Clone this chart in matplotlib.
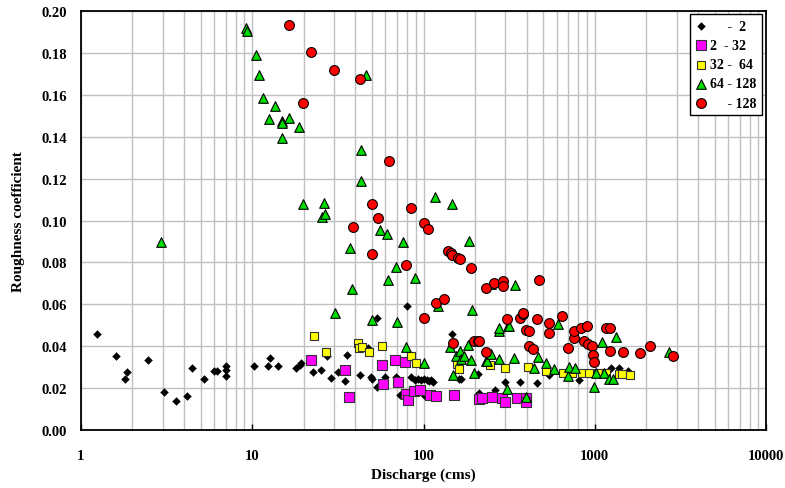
import matplotlib
matplotlib.use("Agg")
import matplotlib.pyplot as plt
from matplotlib.ticker import LogLocator, FixedLocator, NullFormatter, FuncFormatter

# ---- data: discharge (cms) and roughness coefficient, grouped by class ----
labels = ["     -  2", "2  - 32", "32 -  64", "64 - 128", "     - 128"]

q_c1 = [1.25, 1.6, 1.81, 1.85, 2.47, 3.05, 3.58, 4.15, 4.46, 5.26, 5.99, 6.23, 7.03, 7.03, 7.03,
        10.3, 12.3, 12.7, 14.1, 18.1, 18.9, 19.4, 22.6, 25.1, 27.3, 29.0, 31.7, 34.9, 35.6, 42.4,
        47.6, 49.5, 50.2, 53.4, 53.4, 59.8, 69.3, 70.8, 73.1, 80.3, 84.8, 89.0, 93.0, 97.0, 101,
        101, 105, 108, 111, 114, 147, 162, 166, 209, 212, 263, 301, 366, 460, 538, 813, 1243, 1376, 1553]
n_c1 = [0.0457, 0.0354, 0.0243, 0.0278, 0.0334, 0.0183, 0.0138, 0.0161, 0.0294, 0.0243, 0.0283, 0.0283,
        0.0259, 0.0286, 0.0306, 0.0304, 0.0304, 0.0342, 0.0304, 0.0294, 0.0310, 0.0318, 0.0278, 0.0286,
        0.0354, 0.0248, 0.0278, 0.0235, 0.0358, 0.0262, 0.0390, 0.0254, 0.0243, 0.0204, 0.0533, 0.0250,
        0.0254, 0.0243, 0.0167, 0.0590, 0.0250, 0.0238, 0.0242, 0.0236, 0.0244, 0.0167, 0.0238, 0.0232,
        0.0236, 0.0228, 0.0458, 0.0241, 0.0241, 0.0269, 0.0177, 0.0192, 0.0227, 0.0227, 0.0222, 0.0262,
        0.0240, 0.0294, 0.0294, 0.0283]

q_c2 = [21.9, 34.6, 36.5, 57.1, 58.4, 68.4, 71.2, 77.5, 79.3, 81.0, 87.5, 95.7, 109, 119, 150,
        212, 220, 251, 288, 298, 352, 397, 397]
n_c2 = [0.0335, 0.0288, 0.0159, 0.0310, 0.0218, 0.0335, 0.0227, 0.0323, 0.0172, 0.0143, 0.0186, 0.0188,
        0.0164, 0.0161, 0.0164, 0.0148, 0.0154, 0.0156, 0.0151, 0.0132, 0.0151, 0.0151, 0.0132]

q_c3 = [22.9, 26.8, 41.4, 42.0, 43.9, 48.0, 57.1, 84.8, 90.7, 157, 161, 243, 297, 409, 519, 655, 736,
        837, 929, 1038, 1162, 1389, 1440, 1604]
n_c3 = [0.0450, 0.0371, 0.0414, 0.0391, 0.0394, 0.0371, 0.0399, 0.0351, 0.0320, 0.0315, 0.0291, 0.0312,
        0.0294, 0.0299, 0.0280, 0.0271, 0.0273, 0.0273, 0.0273, 0.0273, 0.0273, 0.0269, 0.0269, 0.0262]

q_c4 = [2.93, 9.25, 9.33, 10.5, 10.96, 11.5, 12.6, 13.5, 14.9, 15.0, 15.0, 16.5, 18.7, 19.8, 26.1, 25.7,
        26.5, 30.3, 37.4, 38.4, 42.9, 42.9, 45.9, 50.0, 55.4, 61.4, 61.9, 68.7, 69.9, 75.7, 79.3, 89.0,
        100, 116, 121, 143, 147, 148, 155, 164, 166, 173, 183, 185, 190, 192, 198, 232, 234, 248, 248,
        277, 277, 277, 307, 310, 314, 339, 344, 397, 444, 469, 519, 581, 607, 694, 703, 767, 993, 1016,
        1102, 1136, 1203, 1270, 1330, 2718]
n_c4 = [0.0897, 0.1921, 0.1905, 0.1789, 0.1693, 0.1587, 0.1483, 0.1545, 0.1396, 0.1475, 0.1467, 0.1491,
        0.1447, 0.1078, 0.1083, 0.1015, 0.1029, 0.0557, 0.0871, 0.0673, 0.1336, 0.1189, 0.1693, 0.0525,
        0.0955, 0.0935, 0.0717, 0.0776, 0.0514, 0.0895, 0.0397, 0.0725, 0.0318, 0.1110, 0.0593, 0.0394,
        0.1078, 0.0264, 0.0354, 0.0378, 0.0339, 0.0354, 0.0407, 0.0900, 0.0334, 0.0572, 0.0272, 0.0331,
        0.0331, 0.0697, 0.0363, 0.0470, 0.0339, 0.0487, 0.0196, 0.0498, 0.0498, 0.0342, 0.0692, 0.0156,
        0.0294, 0.0347, 0.0320, 0.0291, 0.0506, 0.0256, 0.0302, 0.0294, 0.0204, 0.0272, 0.0418, 0.0272,
        0.0243, 0.0243, 0.0442, 0.0373]

q_c5 = [16.4, 19.9, 21.9, 30.0, 38.7, 42.4, 49.8, 50.2, 53.9, 62.8, 79.3, 84.3, 100, 100.5, 106, 117.5,
        131, 139, 145, 147, 148, 160, 163, 190, 198, 207, 212, 232, 232, 259, 290, 293, 307, 366, 379,
        383, 397, 415, 415, 434, 460, 470, 538, 543, 644, 700, 752, 759, 830, 860, 896, 908, 963, 971,
        993, 1162, 1226, 1226, 1466, 1824, 2108, 2870]
n_c5 = [0.1933, 0.1560, 0.1806, 0.1720, 0.0970, 0.1674, 0.0838, 0.1081, 0.1013, 0.1285, 0.0789, 0.1062,
        0.0534, 0.0987, 0.0959, 0.0606, 0.0625, 0.0855, 0.0844, 0.0835, 0.0414, 0.0822, 0.0816, 0.0771,
        0.0426, 0.0426, 0.0426, 0.0677, 0.0371, 0.0701, 0.0712, 0.0688, 0.0530, 0.0533, 0.0553, 0.0557,
        0.0478, 0.0474, 0.0399, 0.0386, 0.0530, 0.0716, 0.0510, 0.0463, 0.0542, 0.0390, 0.0437, 0.0474,
        0.0487, 0.0423, 0.0495, 0.0410, 0.0399, 0.0358, 0.0326, 0.0487, 0.0487, 0.0378, 0.0371, 0.0367,
        0.0399, 0.0354]

xticks = [1, 10, 100, 1000, 10000]
yticks = [0.00, 0.02, 0.04, 0.06, 0.08, 0.10, 0.12, 0.14, 0.16, 0.18, 0.20]

serif = ["Liberation Serif", "DejaVu Serif"]

fig = plt.figure(figsize=(7.85, 4.89), dpi=100)
ax = fig.add_axes([0.103, 0.119, 0.873, 0.856])

ax.set_xscale("log")
ax.set_xlim(1, 10000)
ax.set_ylim(0, 0.20)

ax.scatter(q_c1, n_c1, marker="D", s=16, c="black", edgecolors="black", linewidths=0.3, label=labels[0], zorder=3)
ax.scatter(q_c2, n_c2, marker="s", s=42, c="#ff00ff", edgecolors="#333333", linewidths=0.8, label=labels[1], zorder=3)
ax.scatter(q_c3, n_c3, marker="s", s=38, c="#ffff00", edgecolors="#333333", linewidths=0.8, label=labels[2], zorder=3)
ax.scatter(q_c4, n_c4, marker="^", s=48, c="#00dd00", edgecolors="black", linewidths=0.8, label=labels[3], zorder=3)
ax.scatter(q_c5, n_c5, marker="o", s=50, c="#ff0000", edgecolors="black", linewidths=0.8, label=labels[4], zorder=3)

ax.xaxis.set_major_locator(FixedLocator(xticks))
ax.xaxis.set_minor_locator(LogLocator(base=10, subs=range(2, 10)))
ax.xaxis.set_minor_formatter(NullFormatter())
ax.xaxis.set_major_formatter(FuncFormatter(lambda v, p: f"{int(round(v))}"))
ax.yaxis.set_major_locator(FixedLocator(yticks))
ax.yaxis.set_major_formatter(FuncFormatter(lambda v, p: f"{v:.2f}"))

ax.grid(True, which="major", axis="both", color="#c0c0c0", linewidth=1.0, zorder=0)
ax.grid(True, which="minor", axis="x", color="#c0c0c0", linewidth=1.0, zorder=0)
ax.set_axisbelow(True)

ax.tick_params(axis="x", which="major", direction="in", length=4, width=1, pad=14)
ax.tick_params(axis="x", which="minor", length=0)
ax.tick_params(axis="y", which="major", length=0, pad=10)

for lab in ax.get_xticklabels() + ax.get_yticklabels():
    lab.set_fontfamily(serif)
    lab.set_fontweight("bold")
    lab.set_fontsize(10.5)

for sp in ax.spines.values():
    sp.set_color("black")
    sp.set_linewidth(1.3)

ax.set_xlabel("Discharge (cms)", fontfamily=serif, fontweight="bold", fontsize=11, labelpad=4)
ax.set_ylabel("Roughness coefficient", fontfamily=serif, fontweight="bold", fontsize=11, labelpad=12)

leg = ax.legend(loc="upper right", bbox_to_anchor=(0.9934, 0.993), borderaxespad=0.0,
                frameon=True, fancybox=False, edgecolor="black", framealpha=1,
                handletextpad=0.2, labelspacing=0.45, borderpad=0.4, handlelength=0.8,
                prop={"family": serif, "weight": "bold", "size": 10})
leg.get_frame().set_linewidth(1.0)

fig.savefig("out.png", dpi=100)
